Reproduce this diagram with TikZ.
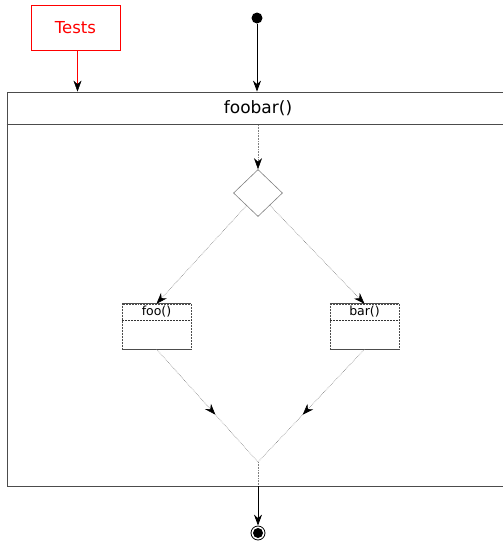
\documentclass[tikz,border=0pt]{standalone}
\usepackage{fontspec}
\setmainfont{DejaVu Sans}
\usetikzlibrary{arrows.meta,shapes.geometric,decorations.markings,calc}
\definecolor{notered}{RGB}{255,0,0}
\begin{document}
\begin{tikzpicture}[x=1pt,y=-1pt,
  tip/.style={-{Stealth[color=black,length=11pt,width=8pt,inset=3.5pt]}},
  flow/.style={draw=gray,densely dotted,line width=0.6pt},
  midtip/.style={postaction={decorate},decoration={markings,
    mark=at position #1 with {\arrow{Stealth[color=black,length=11pt,width=8pt,inset=3.5pt]}}}},
  note/.style={draw=notered,text=notered,minimum width=89pt,minimum height=45pt,
    inner sep=0pt,font=\fontsize{16.5}{18}\selectfont},
  actbox/.style={draw=black!70,line width=0.8pt,inner sep=0pt},
  callbox/.style={draw=black!70,densely dotted,line width=0.5pt,
    minimum width=69pt,minimum height=45pt,inner sep=0pt},
  calltext/.style={font=\fontsize{12.5}{14}\selectfont,inner sep=0pt},
]
\useasboundingbox (0,0) rectangle (503,542);

% note and initial state
\node[note] (tests) at (75.5,27.5) {Tests};
\node[circle,fill=black,inner sep=0pt,minimum size=11pt] (start) at (257,18) {};

% activity frame with its title bar
\node[actbox,minimum width=496pt,minimum height=394pt] (act) at (255,289) {};
\node[font=\fontsize{17}{19}\selectfont,inner sep=0pt] (title) at (258,108) {foobar()};
\coordinate (hl) at ($(act.north west)+(0,33)$);
\coordinate (hr) at ($(act.north east)+(0,33)$);
\draw[black!70,line width=0.8pt] (hl) -- (hr);

% note link: red line, black head drawn on its own
\coordinate (tout) at ($(tests.south)+(2,0)$);
\coordinate (tin) at (tout |- act.north);
\draw[draw=notered,line width=1.2pt] (tout) -- ($(tin)+(0,-6)$);
\path[midtip=1] (tout) -- (tin);
\draw[line width=0.8pt,tip] (start) -- (start |- act.north);

% decision
\coordinate (hin) at (258,125);
\node[diamond,draw=gray,line width=0.6pt,minimum width=49pt,minimum height=47pt,inner sep=0pt] (dec) at (258,193) {};
\draw[flow,tip] (hin) -- (dec.north);

% the two calls
\node[callbox] (foo) at (156.5,326.5) {};
\node[callbox] (bar) at (364.5,326.5) {};
\foreach \b in {foo,bar}{
  \draw[black!70,line width=0.8pt] (\b.north west) -- (\b.north east);
  \draw[black!70,line width=0.8pt] (\b.south west) -- (\b.south east);
  \draw[black!80,densely dotted,line width=0.5pt]
    ($(\b.north west)+(0,16)$) -- ($(\b.north east)+(0,16)$);
}
\node[calltext] (footxt) at (156.5,311.5) {foo()};
\node[calltext] (bartxt) at (364.5,311.5) {bar()};

\draw[flow,tip] (dec) -- (foo.north);
\draw[flow,tip] (dec) -- (bar.north);

% merge and final state
\coordinate (m) at (258,462);
\draw[flow,midtip=0.58] (foo.south) -- (m);
\draw[flow,midtip=0.58] (bar.south) -- (m);
\coordinate (mb) at (m |- act.south);
\draw[flow] (m) -- (mb);
\node[circle,draw=black,line width=0.8pt,inner sep=0pt,minimum size=14pt] (end) at (258,533) {};
\fill[black] (end.center) circle (5pt);
\draw[line width=0.8pt,tip] (mb) -- (end);
\end{tikzpicture}
\end{document}
